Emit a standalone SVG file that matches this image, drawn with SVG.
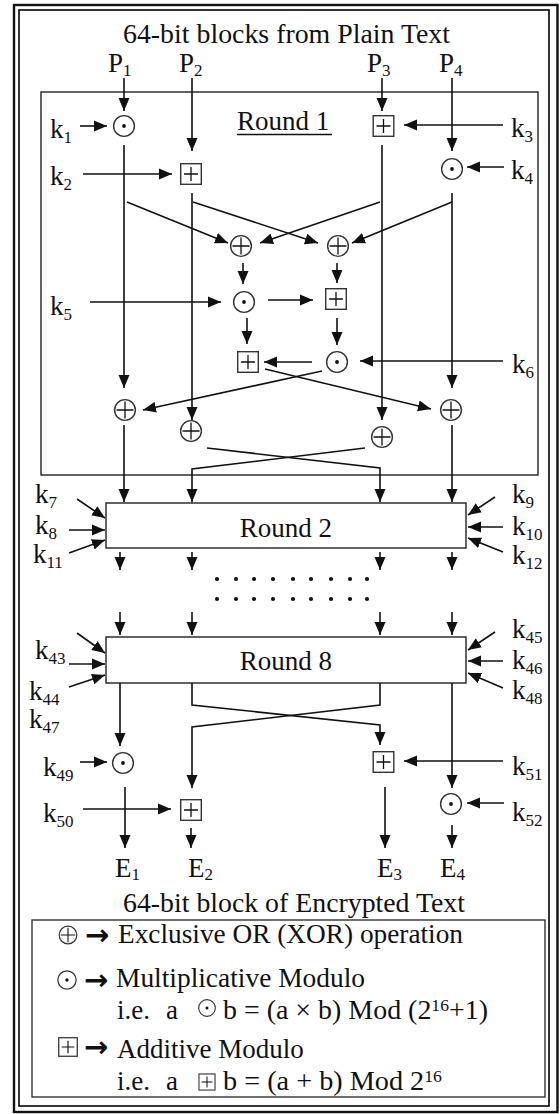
<svg xmlns="http://www.w3.org/2000/svg" width="560" height="1114" viewBox="0 0 560 1114">
<style>
.t{font-family:"Liberation Serif","Times New Roman",serif;font-size:27px;fill:#111}
.s{font-size:17px}
.ln{stroke:#111;stroke-width:1.6;fill:none}
.a{marker-end:url(#ah)}
.op{fill:#fff;stroke:#333;stroke-width:1.4}
.pl{stroke:#111;stroke-width:1.3;fill:none}
.box{fill:#fff;stroke:#222;stroke-width:1.4}
.ar{font-family:"DejaVu Sans",sans-serif;font-weight:bold;font-size:29px;fill:#111}
</style>
<defs>
<marker id="ah" viewBox="0 0 13 12" refX="13" refY="6" markerWidth="13" markerHeight="12" markerUnits="userSpaceOnUse" orient="auto"><path d="M0,0.5L13,6L0,11.5z" fill="#111"/></marker>
<g id="mul"><circle r="10.4" class="op"/><circle r="1.9" fill="#111"/></g>
<g id="xor"><circle r="10.4" class="op"/><path d="M-8.5,0H8.5M0,-8.5V8.5" class="pl"/></g>
<g id="add"><rect x="-10.3" y="-10.3" width="20.6" height="20.6" class="op"/><path d="M-7,0H7M0,-7V7" class="pl"/></g>
</defs>

<g id="frame">
<rect x="14" y="5" width="543.5" height="1107" fill="none" stroke="#111" stroke-width="2.4"/>
<rect x="19" y="10" width="530" height="1096" fill="none" stroke="#111" stroke-width="1.7"/>
</g>

<g id="round1-box"><rect x="41" y="92" width="497" height="383" fill="none" stroke="#222" stroke-width="1.4"/>
<text class="t" x="237" y="130">Round 1</text><line x1="237" y1="134.5" x2="332" y2="134.5" stroke="#111" stroke-width="1.3"/></g>
<g id="round2"><rect class="box" x="106" y="503" width="360" height="45"/><text class="t" x="286" y="537" text-anchor="middle">Round 2</text></g>
<g id="round8"><rect class="box" x="106" y="637" width="360" height="46"/><text class="t" x="286" y="670" text-anchor="middle">Round 8</text></g>

<g id="connectors">
<path class="ln a" d="M124,78V111"/>
<path class="ln a" d="M192,78V151"/>
<path class="ln a" d="M382,78V111"/>
<path class="ln a" d="M452,78V151"/>
<path class="ln a" d="M80,126H107"/>
<path class="ln a" d="M83,174H172"/>
<path class="ln a" d="M503,125H404"/>
<path class="ln a" d="M504,167H467"/>
<path class="ln a" d="M124,145V388"/>
<path class="ln a" d="M127,202L228,243"/>
<path class="ln a" d="M192,193V420"/>
<path class="ln a" d="M193,202L318,243"/>
<path class="ln a" d="M382,145V420"/>
<path class="ln a" d="M380,202L260,243"/>
<path class="ln a" d="M452,193V388"/>
<path class="ln a" d="M452,202L352,243"/>
<path class="ln a" d="M243,263V284"/>
<path class="ln a" d="M337,263V283"/>
<path class="ln a" d="M90,302H221"/>
<path class="ln a" d="M268,300H313"/>
<path class="ln a" d="M247,318V344"/>
<path class="ln a" d="M337,318V345"/>
<path class="ln a" d="M503,361H360"/>
<path class="ln a" d="M312,362H264"/>
<path class="ln a" d="M322,371L143,410"/>
<path class="ln a" d="M265,369L431,409"/>
<path class="ln a" d="M124,425V502"/>
<path class="ln a" d="M452,425V502"/>
<path class="ln a" d="M207,448L380,468V502"/>
<path class="ln a" d="M365,448L192,469V502"/>
<path class="ln a" d="M77,499L105,518"/>
<path class="ln a" d="M69,530H105"/>
<path class="ln a" d="M69,553L105,540"/>
<path class="ln a" d="M495,497L468,515"/>
<path class="ln a" d="M503,527H468"/>
<path class="ln a" d="M503,552L468,538"/>
<path class="ln a" d="M120,552V570"/>
<path class="ln a" d="M192,552V570"/>
<path class="ln a" d="M380,552V570"/>
<path class="ln a" d="M452,552V570"/>
<path class="ln a" d="M120,612V635"/>
<path class="ln a" d="M192,612V635"/>
<path class="ln a" d="M380,612V635"/>
<path class="ln a" d="M452,612V635"/>
<path class="ln a" d="M77,633L105,653"/>
<path class="ln a" d="M69,664H105"/>
<path class="ln a" d="M69,687L105,675"/>
<path class="ln a" d="M495,632L468,650"/>
<path class="ln a" d="M503,661H468"/>
<path class="ln a" d="M503,688L468,673"/>
<path class="ln a" d="M120,683V746"/>
<path class="ln a" d="M192,683V705L380,725V745"/>
<path class="ln a" d="M380,683V705L192,727V788"/>
<path class="ln a" d="M452,683V788"/>
<path class="ln a" d="M80,762H107"/>
<path class="ln a" d="M83,809H171"/>
<path class="ln a" d="M503,761H404"/>
<path class="ln a" d="M504,803H467"/>
<path class="ln a" d="M125,787V848"/>
<path class="ln a" d="M191,828V848"/>
<path class="ln a" d="M385,787V848"/>
<path class="ln a" d="M452,825V848"/>
</g>

<g id="M1"><use href="#mul" x="124" y="126"/></g>
<g id="A1"><use href="#add" x="191" y="174"/></g>
<g id="A2"><use href="#add" x="383.5" y="126"/></g>
<g id="M2"><use href="#mul" x="452" y="169"/></g>
<g id="X1"><use href="#xor" x="241" y="246"/></g>
<g id="X2"><use href="#xor" x="338" y="246"/></g>
<g id="M3"><use href="#mul" x="244" y="302"/></g>
<g id="A3"><use href="#add" x="336" y="299"/></g>
<g id="A4"><use href="#add" x="248" y="362"/></g>
<g id="M4"><use href="#mul" x="337" y="362"/></g>
<g id="X3"><use href="#xor" x="125" y="410"/></g>
<g id="X4"><use href="#xor" x="451" y="410"/></g>
<g id="X5"><use href="#xor" x="191" y="431"/></g>
<g id="X6"><use href="#xor" x="382" y="437"/></g>
<g id="M5"><use href="#mul" x="123" y="763"/></g>
<g id="A5"><use href="#add" x="383.5" y="762"/></g>
<g id="A6"><use href="#add" x="191" y="810"/></g>
<g id="M6"><use href="#mul" x="451" y="804"/></g>

<g id="dots" fill="#111">
<circle cx="217" cy="579" r="2.1"/><circle cx="236" cy="579" r="2.1"/><circle cx="254" cy="579" r="2.1"/><circle cx="273" cy="579" r="2.1"/><circle cx="293" cy="579" r="2.1"/><circle cx="311" cy="579" r="2.1"/><circle cx="331" cy="579" r="2.1"/><circle cx="350" cy="579" r="2.1"/><circle cx="367" cy="579" r="2.1"/>
<circle cx="217" cy="599" r="2.1"/><circle cx="236" cy="599" r="2.1"/><circle cx="254" cy="599" r="2.1"/><circle cx="273" cy="599" r="2.1"/><circle cx="293" cy="599" r="2.1"/><circle cx="311" cy="599" r="2.1"/><circle cx="331" cy="599" r="2.1"/><circle cx="350" cy="599" r="2.1"/><circle cx="367" cy="599" r="2.1"/>
</g>

<g id="labels" class="t">
<text class="t" x="123" y="43" font-size="25" textLength="327" lengthAdjust="spacingAndGlyphs">64-bit blocks from Plain Text</text>
<text class="t" x="108" y="72" font-size="26">P<tspan class="s" dy="4">1</tspan></text>
<text class="t" x="179" y="72" font-size="26">P<tspan class="s" dy="4">2</tspan></text>
<text class="t" x="367" y="72" font-size="26">P<tspan class="s" dy="4">3</tspan></text>
<text class="t" x="439" y="72" font-size="26">P<tspan class="s" dy="4">4</tspan></text>
<text class="t" x="50" y="138">k<tspan class="s" dy="5">1</tspan></text>
<text class="t" x="50" y="185">k<tspan class="s" dy="5">2</tspan></text>
<text class="t" x="511" y="137">k<tspan class="s" dy="5">3</tspan></text>
<text class="t" x="511" y="179">k<tspan class="s" dy="5">4</tspan></text>
<text class="t" x="50" y="315">k<tspan class="s" dy="5">5</tspan></text>
<text class="t" x="512" y="373">k<tspan class="s" dy="5">6</tspan></text>
<text class="t" x="35" y="503">k<tspan class="s" dy="5">7</tspan></text>
<text class="t" x="35" y="534">k<tspan class="s" dy="5">8</tspan></text>
<text class="t" x="33" y="563">k<tspan class="s" dy="5">11</tspan></text>
<text class="t" x="512" y="503">k<tspan class="s" dy="5">9</tspan></text>
<text class="t" x="512" y="535">k<tspan class="s" dy="5">10</tspan></text>
<text class="t" x="512" y="564">k<tspan class="s" dy="5">12</tspan></text>
<text class="t" x="35" y="659">k<tspan class="s" dy="5">43</tspan></text>
<text class="t" x="29" y="700">k<tspan class="s" dy="5">44</tspan></text>
<text class="t" x="29" y="728">k<tspan class="s" dy="5">47</tspan></text>
<text class="t" x="512" y="638">k<tspan class="s" dy="5">45</tspan></text>
<text class="t" x="512" y="669">k<tspan class="s" dy="5">46</tspan></text>
<text class="t" x="512" y="699">k<tspan class="s" dy="5">48</tspan></text>
<text class="t" x="43" y="776">k<tspan class="s" dy="5">49</tspan></text>
<text class="t" x="43" y="822">k<tspan class="s" dy="5">50</tspan></text>
<text class="t" x="512" y="775">k<tspan class="s" dy="5">51</tspan></text>
<text class="t" x="512" y="821">k<tspan class="s" dy="5">52</tspan></text>
<text class="t" x="115" y="877">E<tspan class="s" dy="3">1</tspan></text>
<text class="t" x="188" y="877">E<tspan class="s" dy="3">2</tspan></text>
<text class="t" x="377" y="877">E<tspan class="s" dy="3">3</tspan></text>
<text class="t" x="440" y="877">E<tspan class="s" dy="3">4</tspan></text>
<text class="t" x="123" y="912" font-size="26" textLength="342" lengthAdjust="spacingAndGlyphs">64-bit block of Encrypted Text</text>
</g>

<g id="legend">
<rect x="32" y="920" width="513" height="177" fill="none" stroke="#333" stroke-width="1.4"/>
<use href="#xor" transform="translate(68,935) scale(0.85)"/>
<text class="ar" x="85" y="945">→</text>
<text class="t" x="118" y="943" textLength="345" lengthAdjust="spacingAndGlyphs">Exclusive OR (XOR) operation</text>
<use href="#mul" transform="translate(67,980) scale(0.88)"/>
<text class="ar" x="84" y="990">→</text>
<text class="t" x="116" y="987" textLength="249" lengthAdjust="spacingAndGlyphs">Multiplicative Modulo</text>
<text class="t" x="117" y="1019">i.e.</text>
<text class="t" x="166" y="1019">a</text>
<use href="#mul" transform="translate(207,1008) scale(0.8)"/>
<text class="t" x="223" y="1019" textLength="265" lengthAdjust="spacingAndGlyphs">b = (a × b) Mod (2<tspan class="s" dy="-8">16</tspan><tspan dy="8">+1)</tspan></text>
<use href="#add" transform="translate(68,1047) scale(0.9)"/>
<text class="ar" x="84" y="1057">→</text>
<text class="t" x="117" y="1058">Additive Modulo</text>
<text class="t" x="117" y="1090">i.e.</text>
<text class="t" x="166" y="1090">a</text>
<use href="#add" transform="translate(207,1082) scale(0.78)"/>
<text class="t" x="223" y="1090" textLength="219" lengthAdjust="spacingAndGlyphs">b = (a + b) Mod 2<tspan class="s" dy="-8">16</tspan></text>
</g>
</svg>
